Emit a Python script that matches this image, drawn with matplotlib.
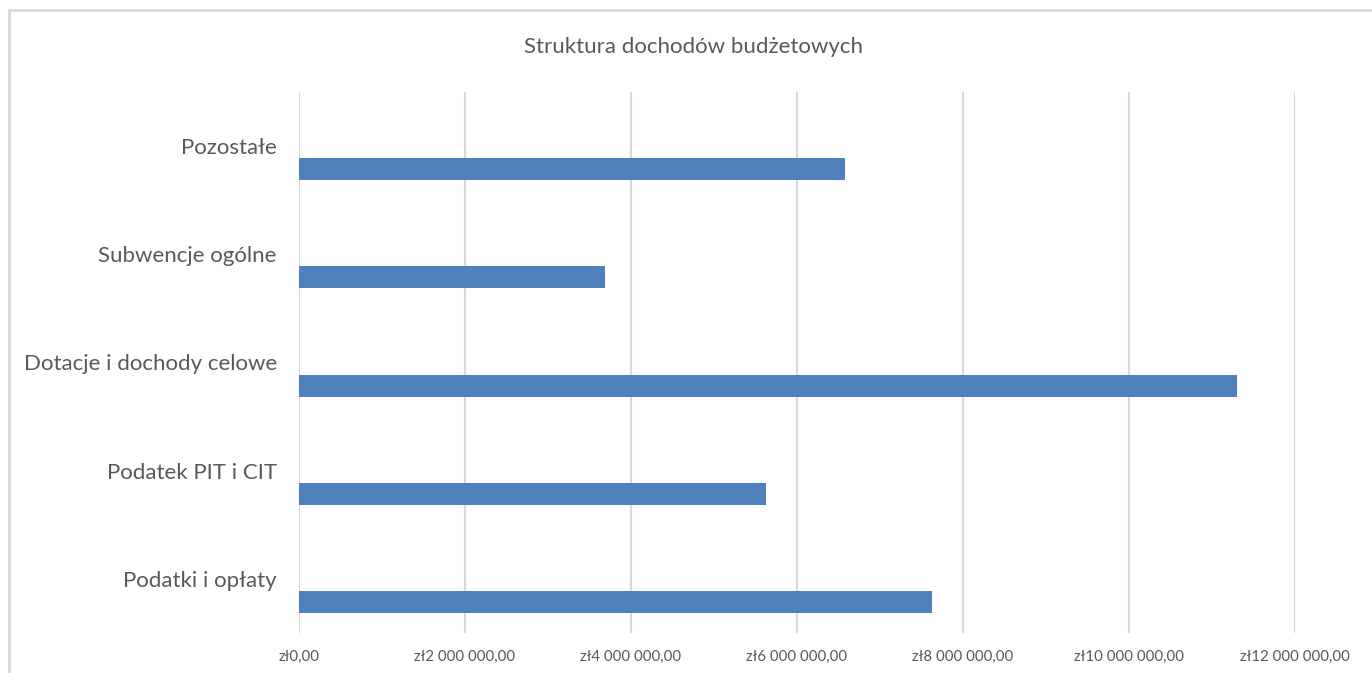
import matplotlib.pyplot as plt
from matplotlib.ticker import FuncFormatter
from matplotlib.patches import Rectangle

plt.rcParams["font.family"] = ["Lato", "DejaVu Sans"]

categories = ["Podatki i opłaty", "Podatek PIT i CIT", "Dotacje i dochody celowe",
              "Subwencje ogólne", "Pozostałe"]
values = [7630000, 5630000, 11300000, 3690000, 6580000]
ticks = [0, 2000000, 4000000, 6000000, 8000000, 10000000, 12000000]


def zl(x, pos):
    s = "{:,.2f}".format(x).replace(",", " ").replace(".", ",")
    return "zł" + s


fig = plt.figure(figsize=(13.72, 6.73), dpi=100)
ax = fig.add_axes([299 / 1372, 1 - 633 / 673, 996 / 1372, 541 / 673])

# ramka wykresu
fig.patches.append(Rectangle((9 / 1372, -0.05), 1.1, 1 - 10 / 673 + 0.05,
                             transform=fig.transFigure, fill=False,
                             edgecolor="#d9d9d9", linewidth=2))

pos = list(range(len(categories)))
ax.barh([p - 0.213 for p in pos], values, height=0.203, color="#4f81bd")

ax.set_xlim(0, 12000000)
ax.set_ylim(-0.5, 4.5)
ax.set_xticks(ticks)
ax.xaxis.set_major_formatter(FuncFormatter(zl))
ax.set_yticks(pos)
ax.set_yticklabels(categories, fontsize=16, color="#595959")
ax.tick_params(axis="x", labelsize=10.8, colors="#595959", length=0, pad=12)
ax.tick_params(axis="y", length=0, pad=16)
ax.grid(axis="x", color="#d9d9d9", linewidth=1.5)
ax.set_axisbelow(True)
for s in ax.spines.values():
    s.set_visible(False)

fig.text(694 / 1372, 1 - 47 / 673, "Struktura dochodów budżetowych",
         ha="center", va="center", fontsize=16, color="#595959")

fig.savefig("out.png", dpi=100)
